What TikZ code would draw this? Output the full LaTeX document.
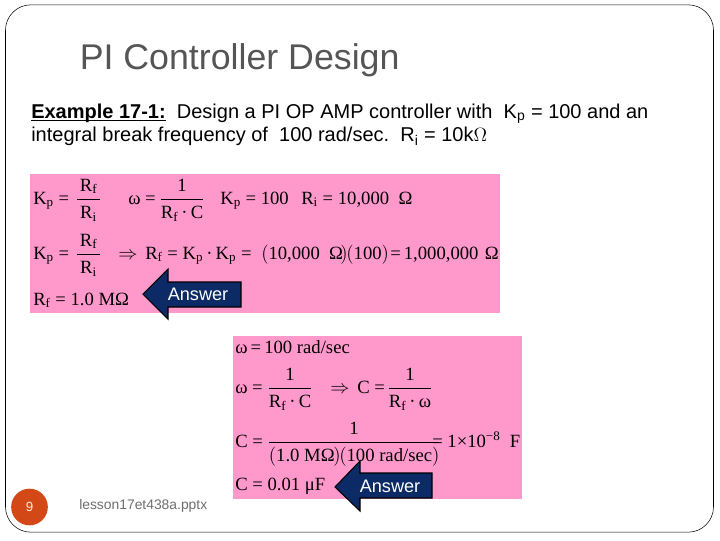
\documentclass[tikz,border=0pt]{standalone}
\usepackage{fontspec}
\setmainfont{Liberation Sans}
\newfontfamily\eqfont{Liberation Serif}
\newcommand{\sub}[1]{\textsubscript{#1}}
\newcommand{\eqfrac}[2]{$\displaystyle\frac{\hbox{\eqfont\rule[-3pt]{0pt}{12pt}#1}}{\hbox{\eqfont\rule[-1pt]{0pt}{14pt}#2}}$}
\newcommand{\bigp}[1]{$\Bigl#1$}
\definecolor{eqpink}{HTML}{FF99CC}
\definecolor{arrownavy}{HTML}{0B2A66}
\definecolor{badgeorange}{HTML}{D34817}
\definecolor{footgrey}{HTML}{6E6E6E}
\definecolor{titlegrey}{HTML}{555555}
\begin{document}
\begin{tikzpicture}[x=0.75pt,y=-0.75pt,
  txt node/.style={inner sep=0pt,anchor=base west,font=\fontsize{15}{18}\selectfont},
  eq node/.style={inner sep=0pt,anchor=base west,font=\eqfont\fontsize{14}{16}\selectfont},
  answer arrow/.style={draw=black,line width=0.8pt,fill=arrownavy},
  answer node/.style={inner sep=0pt,text=white,font=\fontsize{13.6}{15}\selectfont}]
  \useasboundingbox (0,0) rectangle (720,540);
  \node[draw,rounded corners=19pt,minimum width=531pt,minimum height=395.5pt,inner sep=0pt] (frame) at (359.5,268.5) {};

  \node[inner sep=0pt,anchor=base west,text=titlegrey,font=\fontsize{26.8}{30}\selectfont] (title) at (79.5,69) {PI Controller Design};
  \node[txt node] (line1) at (31,118) {\underline{\smash{\textbf{Example 17-1:}}}\ \ Design a PI OP AMP controller with\ \ K\sub{p} = 100 and an};
  \node[txt node] (line2) at (31,141.5) {integral break frequency of\ \ 100 rad/sec.\ \ R\sub{i} = 10k$\Omega$};

  \fill[eqpink] (30,174) rectangle (500,313);
  \fill[eqpink] (233,336) rectangle (522,499);

  \node[eq node] (a1) at (33,204) {K\sub{p} =};
  \node[eq node] (a2) at (75,204) {\eqfrac{R\sub{f}}{\kern2.5pt R\sub{i}\kern2.5pt}};
  \node[eq node] (a3) at (128,204) {ω =};
  \node[eq node] (a4) at (159,204) {\eqfrac{1}{R\sub{f}\,·\,C}};
  \node[eq node] (a5) at (220,204) {K\sub{p} = 100};
  \node[eq node] (a6) at (301,204) {R\sub{i} = 10,000\ \ Ω};

  \node[eq node] (b1) at (33,259) {K\sub{p} =};
  \node[eq node] (b2) at (75,259) {\eqfrac{R\sub{f}}{\kern2.5pt R\sub{i}\kern2.5pt}};
  \node[eq node] (b3) at (118,259) {$\Rightarrow$};
  \node[eq node] (b4) at (145,259) {R\sub{f} = K\sub{p}\,·\,K\sub{p} =};
  \node[eq node] (b5) at (261,259) {\bigp{(}10,000\ \ Ω\kern-2pt\bigp{)}\kern-1pt\bigp{(}100\bigp{)}};
  \node[eq node] (b6) at (390,259) {=\,1,000,000\,\,Ω};

  \node[eq node] (c1) at (33,305) {R\sub{f} = 1.0 MΩ};

  \node[eq node] (d1) at (235,353) {ω\,=\,100 rad/sec};
  \node[eq node] (e1) at (235,393) {ω =};
  \node[eq node] (e2) at (267,393) {\eqfrac{1}{R\sub{f}\,·\,C}};
  \node[eq node] (e3) at (330,393) {$\Rightarrow$};
  \node[eq node] (e4) at (357,393) {C =};
  \node[eq node] (e5) at (387,393) {\eqfrac{1}{R\sub{f}\,·\,ω}};
  \node[eq node] (f1) at (235,447) {C =};
  \node[eq node] (f2) at (267,447) {\eqfrac{1}{\bigp{(}1.0 MΩ\kern-1pt\bigp{)}\kern-1pt\bigp{(}100 rad/sec\bigp{)}}};
  \node[eq node] (f3) at (432,447) {= 1×10\textsuperscript{−8}\ \ F};
  \node[eq node] (g1) at (235,490) {C = 0.01 μF};

  \draw[answer arrow] (143,294) -- (168,269) -- (168,282) -- (241,282) -- (241,307) -- (168,307) -- (168,319) -- cycle;
  \node[answer node] (ans1) at (198,294.5) {Answer};
  \draw[answer arrow] (335,487) -- (360,461) -- (360,473) -- (432,473) -- (432,498) -- (360,498) -- (360,511) -- cycle;
  \node[answer node] (ans2) at (390,486.5) {Answer};

  \node[circle,fill=badgeorange,minimum size=27.5pt,inner sep=0pt,text=white!85!orange,font=\fontsize{10}{12}\selectfont] (badge) at (29.5,507) {9};
  \node[inner sep=0pt,anchor=base west,text=footgrey,font=\fontsize{10.4}{12}\selectfont] (foot) at (79,509) {lesson17et438a.pptx};
\end{tikzpicture}
\end{document}
